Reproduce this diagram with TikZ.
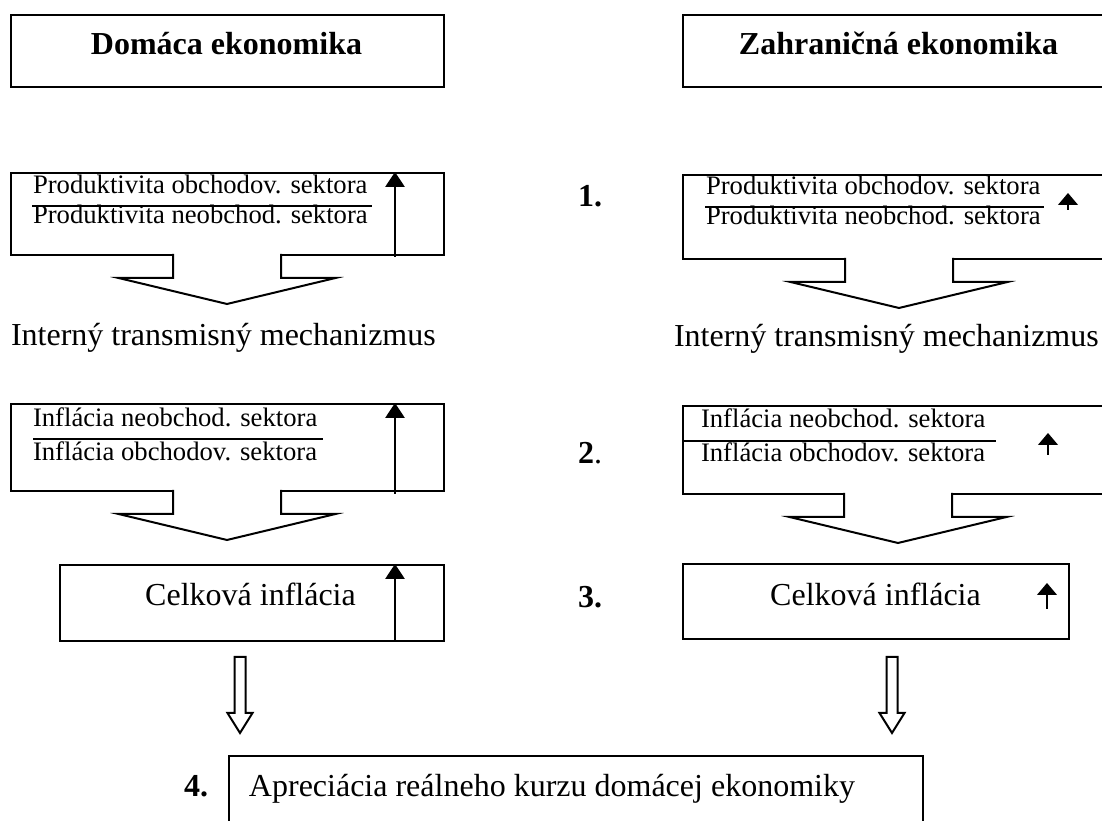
\documentclass[tikz,border=0pt]{standalone}
\usepackage{fontspec}
\setmainfont{Liberation Serif}
\usetikzlibrary{arrows.meta}

\newcommand\pxu{0.375pt}
% broad arrow hanging under a box: centre x, top y
\newcommand\blockarrow[2]{%
  \fill[white] (#1-53,#2-2) rectangle (#1+53,#2+2);
  \draw (#1-54,#2) -- ++(0,24) -- ++(-54.5,0) -- (#1,#2+50) -- (#1+108.5,#2+24) -- ++(-54.5,0) -- ++(0,-24);
}
% thin hollow arrow down to the last box: centre x
\newcommand\hollowarrow[1]{%
  \draw (#1-5.5,657) -- (#1-5.5,713) -- (#1-12.5,713) -- (#1,733) -- (#1+12.5,713) -- (#1+5.5,713) -- (#1+5.5,657) -- cycle;
}

\begin{document}
\begin{tikzpicture}[x=\pxu, y=-\pxu, line width=0.75pt,
  frame/.style={draw, line width=0.75pt, inner sep=0pt, anchor=north west},
  title/.style={font=\bfseries\fontsize{12}{14}\selectfont, inner sep=0pt, anchor=base},
  txt/.style={font=\fontsize{12}{14}\selectfont, inner sep=0pt, anchor=base west},
  mid/.style={font=\fontsize{12}{14}\selectfont, inner sep=0pt, anchor=base},
  ratio/.style={font=\fontsize{10}{12}\selectfont, inner sep=0pt, anchor=base west},
  num/.style={font=\bfseries\fontsize{12}{14}\selectfont, inner sep=0pt, anchor=base west},
  up/.style={-{Triangle[length=5.6pt, width=7.2pt]}},
  tick/.style={-{Triangle[length=4.5pt, width=7.4pt]}}]
  \useasboundingbox (0,0) rectangle (1102,821);
  \clip (0,0) rectangle (1102,821);

  % hlavicky
  \node[frame, minimum width=433*\pxu, minimum height=72*\pxu] (domBox) at (10,14) {};
  \node[title] (domTitle) at (226.5,55) {Domáca ekonomika};
  \node[frame, minimum width=433*\pxu, minimum height=72*\pxu] (zahBox) at (682,14) {};
  \node[title] (zahTitle) at (898.5,55) {Zahraničná ekonomika};

  % 1. produktivita
  \node[frame, minimum width=433*\pxu, minimum height=82*\pxu] (prodL) at (10,172) {};
  \node[ratio] (prodLtop) at (32,194) {Produktivita obchodov. sektora};
  \node[ratio] (prodLbot) at (32,224) {Produktivita neobchod. sektora};
  \draw (32,206) -- (372,206);
  \draw[up] (395,257) -- (395,172);
  \blockarrow{227}{254}

  \node[num] (one) at (577,207) {1.};
  \node[frame, minimum width=433*\pxu, minimum height=84*\pxu] (prodR) at (682,174) {};
  \node[ratio] (prodRtop) at (705,195) {Produktivita obchodov. sektora};
  \node[ratio] (prodRbot) at (705,225) {Produktivita neobchod. sektora};
  \draw (705,207) -- (1044,207);
  \draw[tick] (1068,210) -- (1068,193);
  \blockarrow{899}{258}

  % interny mechanizmus
  \node[txt] (intL) at (10,346) {Interný transmisný mechanizmus};
  \node[txt] (intR) at (673,347) {Interný transmisný mechanizmus};

  % 2. inflacia sektorov
  \node[frame, minimum width=433*\pxu, minimum height=87*\pxu] (inflL) at (10,403) {};
  \node[ratio] (inflLtop) at (32,427) {Inflácia neobchod. sektora};
  \node[ratio] (inflLbot) at (32,461) {Inflácia obchodov. sektora};
  \draw (33,439) -- (323,439);
  \draw[up] (395,494) -- (395,403);
  \blockarrow{227}{490}

  \node[txt] (two) at (577,464) {\textbf{2}.};
  \node[frame, minimum width=433*\pxu, minimum height=88*\pxu] (inflR) at (682,405) {};
  \node[ratio] (inflRtop) at (700,428) {Inflácia neobchod. sektora};
  \node[ratio] (inflRbot) at (700,462) {Inflácia obchodov. sektora};
  \draw (682,441) -- (996,441);
  \draw[tick] (1048,455) -- (1048,433);
  \blockarrow{898}{493}

  % 3. celkova inflacia
  \node[frame, minimum width=384.4*\pxu, minimum height=76*\pxu] (totL) at (58.6,564) {};
  \node[mid] (totLtxt) at (250.5,606) {Celková inflácia};
  \draw[up] (395,640) -- (395,564);

  \node[num] (three) at (577,608) {3.};
  \node[frame, minimum width=386*\pxu, minimum height=75*\pxu] (totR) at (682,563) {};
  \node[mid] (totRtxt) at (875.5,606) {Celková inflácia};
  \draw[tick] (1047,609) -- (1047,583);

  % 4. kurz
  \hollowarrow{240}
  \hollowarrow{892}
  \node[num] (four) at (183,797) {4.};
  \node[frame, minimum width=694*\pxu, minimum height=120*\pxu] (kurz) at (228,755) {};
  \node[txt] (kurzTxt) at (248,797) {Apreciácia reálneho kurzu domácej ekonomiky};
\end{tikzpicture}
\end{document}
